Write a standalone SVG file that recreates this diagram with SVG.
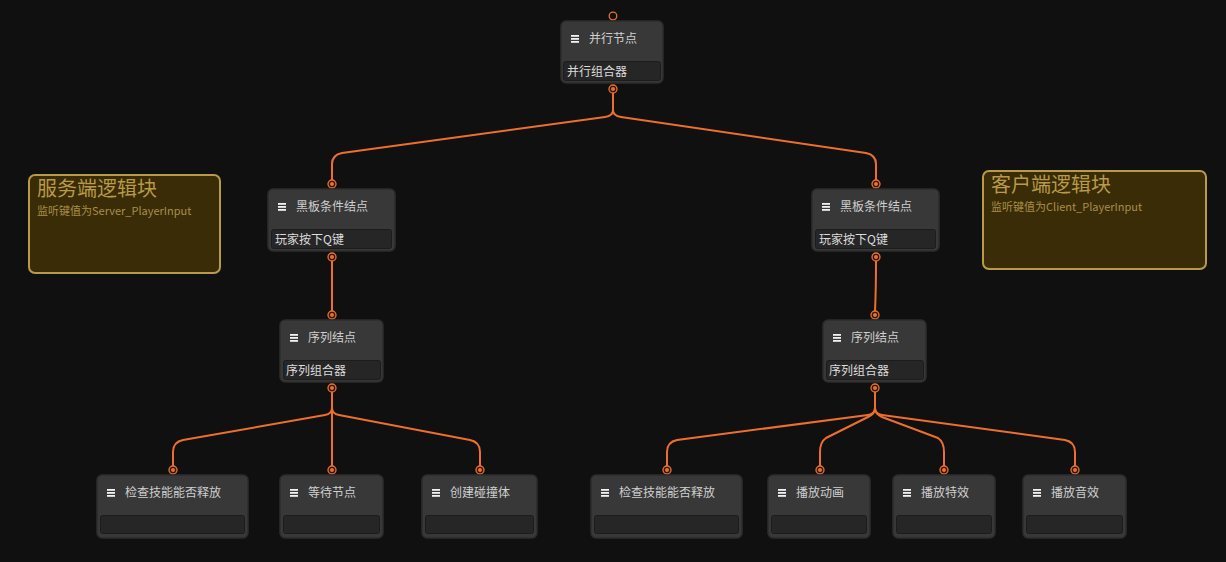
<svg xmlns="http://www.w3.org/2000/svg" width="1226" height="562" viewBox="0 0 1226 562">
<defs>
<style>
.bg{fill:#101010}
.node{fill:#383838;stroke:#2c2c2c;stroke-width:1.5}
.field{fill:#262626;stroke:#1c1c1c;stroke-width:1}
.title{font-family:"Noto Sans CJK SC","Noto Sans",sans-serif;font-size:12px;fill:#cfcfcf}
.ftext{font-family:"Noto Sans CJK SC","Noto Sans",sans-serif;font-size:12px;fill:#dcdcdc}
.wire{fill:none;stroke:#ee6f2d;stroke-width:2;stroke-linejoin:round}
.port{fill:#2a1a10;stroke:#ee6f2d;stroke-width:1.3}
.dot{fill:#ee6f2d}
.cbox{fill:#3a2c06;stroke:#b89a48;stroke-width:2}
.ctitle{font-family:"Noto Sans CJK SC","Noto Sans",sans-serif;font-size:20px;fill:#b89a48}
.csub{font-family:"Noto Sans CJK SC","Noto Sans",sans-serif;font-size:11px;fill:#a88e48}
.icon{fill:#f2f2f2}
</style>
<g id="ic">
<rect class="icon" x="0" y="0" width="8" height="1.8"/>
<rect class="icon" x="0" y="3" width="8" height="1.8"/>
<rect class="icon" x="0" y="6" width="8" height="1.8"/>
</g>
</defs>
<rect class="bg" x="0" y="0" width="1226" height="562"/>

<g id="connectors">
<path class="wire" d="M613,93 V110 Q613,116 605,117 L342,153 Q332,155 332,164 V180"/>
<path class="wire" d="M613,110 Q613,116 621,117 L866,153 Q876,155 876,164 V180"/>
<path class="wire" d="M332,261 V311"/>
<path class="wire" d="M876,261 Q876,290 875,311"/>
<path class="wire" d="M332,392 V408 Q332,414 325,415 L183,440 Q173,442 173,452 V466"/>
<path class="wire" d="M332,408 V466"/>
<path class="wire" d="M332,408 Q332,414 339,415 L470,440 Q480,442 480,452 V466"/>
<path class="wire" d="M875,392 V408 Q875,414 868,415 L677,440 Q667,442 667,452 V466"/>
<path class="wire" d="M875,408 Q875,414 868,417 L826,438 Q820,442 820,452 V466"/>
<path class="wire" d="M875,408 Q875,414 882,417 L938,438 Q944,442 944,452 V466"/>
<path class="wire" d="M875,408 Q875,414 882,415 L1065,440 Q1075,442 1075,452 V466"/>
</g>

<g id="comment-server">
<rect class="cbox" x="29" y="175" width="191" height="98" rx="6"/>
<text class="ctitle" x="37" y="196">服务端逻辑块</text>
<text class="csub" x="37" y="215">监听键值为Server_PlayerInput</text>
</g>
<g id="comment-client">
<rect class="cbox" x="983" y="171" width="223" height="98" rx="6"/>
<text class="ctitle" x="991" y="192">客户端逻辑块</text>
<text class="csub" x="991" y="211">监听键值为Client_PlayerInput</text>
</g>

<g id="root">
<circle cx="613" cy="16" r="3.8" fill="none" stroke="#ee6f2d" stroke-width="1.3"/>
<rect class="node" x="561" y="21" width="102" height="62" rx="5"/>
<use href="#ic" x="571" y="35"/>
<text class="title" x="589" y="43">并行节点</text>
<rect class="field" x="563.5" y="61.5" width="97" height="19" rx="2"/>
<text class="ftext" x="567" y="76">并行组合器</text>
<circle class="port" cx="613" cy="89" r="4"/><circle class="dot" cx="613" cy="89" r="2"/>
</g>

<g id="bb-left">
<circle class="port" cx="332" cy="184" r="4"/><circle class="dot" cx="332" cy="184" r="2"/>
<rect class="node" x="268" y="189" width="127" height="62" rx="5"/>
<use href="#ic" x="278" y="203"/>
<text class="title" x="296" y="211">黑板条件结点</text>
<rect class="field" x="271.5" y="229.5" width="120" height="19" rx="2"/>
<text class="ftext" x="275" y="244">玩家按下Q键</text>
<circle class="port" cx="332" cy="257" r="4"/><circle class="dot" cx="332" cy="257" r="2"/>
</g>

<g id="bb-right">
<circle class="port" cx="876" cy="184" r="4"/><circle class="dot" cx="876" cy="184" r="2"/>
<rect class="node" x="812" y="189" width="127" height="62" rx="5"/>
<use href="#ic" x="822" y="203"/>
<text class="title" x="840" y="211">黑板条件结点</text>
<rect class="field" x="815.5" y="229.5" width="120" height="19" rx="2"/>
<text class="ftext" x="819" y="244">玩家按下Q键</text>
<circle class="port" cx="876" cy="257" r="4"/><circle class="dot" cx="876" cy="257" r="2"/>
</g>

<g id="seq-left">
<circle class="port" cx="332" cy="315" r="4"/><circle class="dot" cx="332" cy="315" r="2"/>
<rect class="node" x="280" y="320" width="103" height="62" rx="5"/>
<use href="#ic" x="290" y="334"/>
<text class="title" x="308" y="342">序列结点</text>
<rect class="field" x="283.5" y="360.5" width="97" height="19" rx="2"/>
<text class="ftext" x="286" y="375">序列组合器</text>
<circle class="port" cx="332" cy="388" r="4"/><circle class="dot" cx="332" cy="388" r="2"/>
</g>

<g id="seq-right">
<circle class="port" cx="875" cy="315" r="4"/><circle class="dot" cx="875" cy="315" r="2"/>
<rect class="node" x="823" y="320" width="103" height="62" rx="5"/>
<use href="#ic" x="833" y="334"/>
<text class="title" x="851" y="342">序列结点</text>
<rect class="field" x="826.5" y="360.5" width="97" height="19" rx="2"/>
<text class="ftext" x="829" y="375">序列组合器</text>
<circle class="port" cx="875" cy="388" r="4"/><circle class="dot" cx="875" cy="388" r="2"/>
</g>

<g id="check-left">
<circle class="port" cx="173" cy="470" r="4"/><circle class="dot" cx="173" cy="470" r="2"/>
<rect class="node" x="97" y="475" width="151" height="63" rx="5"/>
<use href="#ic" x="107" y="489"/>
<text class="title" x="125" y="497">检查技能能否释放</text>
<rect class="field" x="100.5" y="515.5" width="144" height="18" rx="2"/>
</g>

<g id="wait">
<circle class="port" cx="332" cy="470" r="4"/><circle class="dot" cx="332" cy="470" r="2"/>
<rect class="node" x="280" y="475" width="103" height="63" rx="5"/>
<use href="#ic" x="290" y="489"/>
<text class="title" x="308" y="497">等待节点</text>
<rect class="field" x="283.5" y="515.5" width="96" height="18" rx="2"/>
</g>

<g id="collider">
<circle class="port" cx="480" cy="470" r="4"/><circle class="dot" cx="480" cy="470" r="2"/>
<rect class="node" x="422" y="475" width="115" height="63" rx="5"/>
<use href="#ic" x="432" y="489"/>
<text class="title" x="450" y="497">创建碰撞体</text>
<rect class="field" x="425.5" y="515.5" width="108" height="18" rx="2"/>
</g>

<g id="check-right">
<circle class="port" cx="667" cy="470" r="4"/><circle class="dot" cx="667" cy="470" r="2"/>
<rect class="node" x="591" y="475" width="151" height="63" rx="5"/>
<use href="#ic" x="601" y="489"/>
<text class="title" x="619" y="497">检查技能能否释放</text>
<rect class="field" x="594.5" y="515.5" width="144" height="18" rx="2"/>
</g>

<g id="anim">
<circle class="port" cx="820" cy="470" r="4"/><circle class="dot" cx="820" cy="470" r="2"/>
<rect class="node" x="768" y="475" width="102" height="63" rx="5"/>
<use href="#ic" x="778" y="489"/>
<text class="title" x="796" y="497">播放动画</text>
<rect class="field" x="771.5" y="515.5" width="95" height="18" rx="2"/>
</g>

<g id="vfx">
<circle class="port" cx="944" cy="470" r="4"/><circle class="dot" cx="944" cy="470" r="2"/>
<rect class="node" x="893" y="475" width="102" height="63" rx="5"/>
<use href="#ic" x="903" y="489"/>
<text class="title" x="921" y="497">播放特效</text>
<rect class="field" x="896.5" y="515.5" width="95" height="18" rx="2"/>
</g>

<g id="sfx">
<circle class="port" cx="1075" cy="470" r="4"/><circle class="dot" cx="1075" cy="470" r="2"/>
<rect class="node" x="1023" y="475" width="103" height="63" rx="5"/>
<use href="#ic" x="1033" y="489"/>
<text class="title" x="1051" y="497">播放音效</text>
<rect class="field" x="1026.5" y="515.5" width="96" height="18" rx="2"/>
</g>
</svg>
